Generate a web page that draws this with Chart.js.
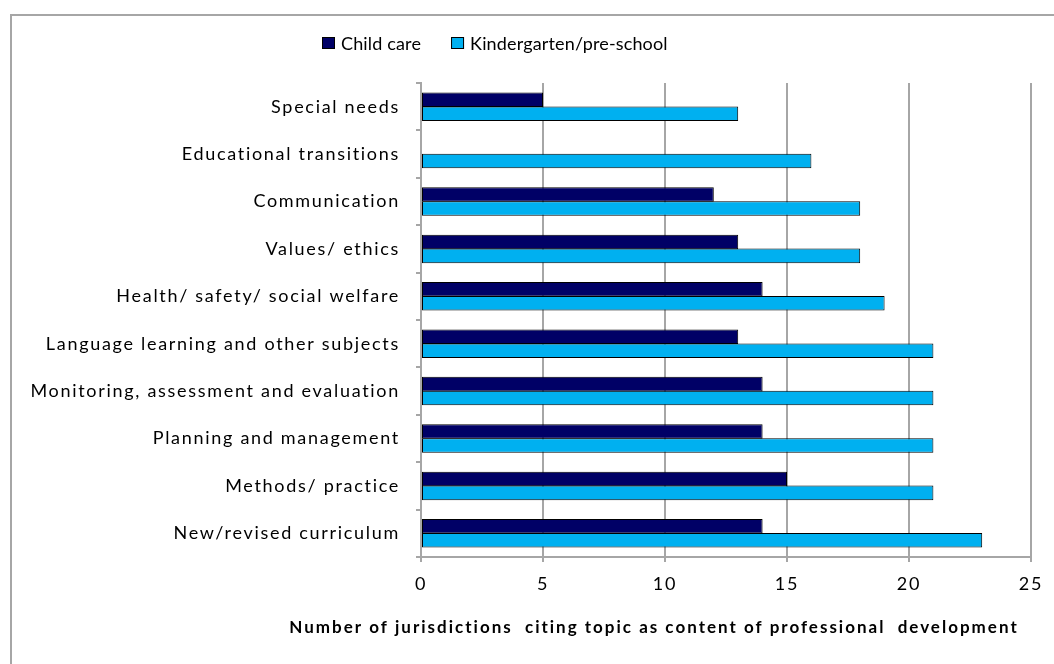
<!DOCTYPE html>
<html>
<head>
<meta charset="utf-8">
<script src="https://cdn.jsdelivr.net/npm/chart.js@4"></script>
<style>
  html, body { margin: 0; padding: 0; background: #fff; }
  #wrap { width: 1054px; height: 664px; position: relative; }
</style>
</head>
<body>
<div id="wrap"><canvas id="chart"></canvas></div>
<script>
// topics, top to bottom as in the figure
const topics = [
  'Special needs',
  'Educational transitions',
  'Communication',
  'Values/ ethics',
  'Health/ safety/ social welfare',
  'Language learning and other subjects',
  'Monitoring, assessment and evaluation',
  'Planning and management',
  'Methods/ practice',
  'New/revised curriculum'
];
const childCare = [5, 0, 12, 13, 14, 13, 14, 14, 15, 14];
const kindergarten = [13, 16, 18, 18, 19, 21, 21, 21, 21, 23];
const xTicks = [0, 5, 10, 15, 20, 25];
const axisTitle = 'Number of jurisdictions  citing topic as content of professional  development';

const FONT = 'Lato, "Open Sans", sans-serif';
const GRID = '#a6a6a6';

// frame round the whole chart, legend and the axis title are drawn here
const decorations = {
  id: 'decorations',
  beforeDraw(chart) {
    const ctx = chart.ctx;
    ctx.save();
    ctx.strokeStyle = GRID;
    ctx.lineWidth = 2;
    ctx.strokeRect(11, 15, 1100, 700);
    ctx.restore();
    // the original (Office) text is set quite loose
    ctx.letterSpacing = '1.7px';
  },
  afterDraw(chart) {
    const ctx = chart.ctx;
    ctx.save();
    // legend
    ctx.letterSpacing = '0.15px';
    ctx.font = '18px ' + FONT;
    ctx.textBaseline = 'middle';
    let x = 322;
    chart.data.datasets.forEach(ds => {
      ctx.fillStyle = ds.backgroundColor;
      ctx.fillRect(x, 37, 13, 12);
      ctx.strokeStyle = '#000';
      ctx.lineWidth = 1;
      ctx.strokeRect(x + 0.5, 37.5, 12, 11);
      ctx.fillStyle = '#000';
      ctx.fillText(ds.label, x + 19, 44);
      x += 19 + ctx.measureText(ds.label).width + 30;
    });
    // x axis title
    ctx.letterSpacing = '2px';
    ctx.font = 'bold 17px ' + FONT;
    ctx.textAlign = 'center';
    ctx.fillText(axisTitle, 654, 628);
    ctx.restore();
    ctx.letterSpacing = '0px';
  }
};

new Chart(document.getElementById('chart'), {
  type: 'bar',
  data: {
    labels: topics,
    datasets: [
      {
        label: 'Child care',
        data: childCare,
        backgroundColor: '#000066',
        borderColor: '#000',
        borderWidth: 1,
        borderSkipped: false
      },
      {
        label: 'Kindergarten/pre-school',
        data: kindergarten,
        backgroundColor: '#00B0F0',
        borderColor: '#000',
        borderWidth: 1,
        borderSkipped: false
      }
    ]
  },
  options: {
    indexAxis: 'y',
    responsive: true,
    maintainAspectRatio: false,
    animation: false,
    layout: { padding: { left: 0, top: 83, right: 23, bottom: 0 } },
    datasets: {
      bar: { barPercentage: 1.04, categoryPercentage: 0.59 }
    },
    plugins: {
      legend: { display: false },
      tooltip: { enabled: false }
    },
    scales: {
      x: {
        min: 0,
        max: 25,
        afterBuildTicks(scale) {
          scale.ticks = xTicks.map(v => ({ value: v }));
        },
        afterFit(scale) { scale.height = 107; },
        grid: { color: GRID, lineWidth: 2, tickLength: 5 },
        border: { color: GRID, width: 2 },
        ticks: { color: '#000', padding: 11, font: { family: FONT, size: 18 } }
      },
      y: {
        afterFit(scale) { scale.width = 421; },
        grid: { drawOnChartArea: false, color: GRID, lineWidth: 2, tickLength: 5 },
        border: { color: GRID, width: 2 },
        ticks: { color: '#000', padding: 16, font: { family: FONT, size: 18 } }
      }
    }
  },
  plugins: [decorations]
});
</script>
</body>
</html>
